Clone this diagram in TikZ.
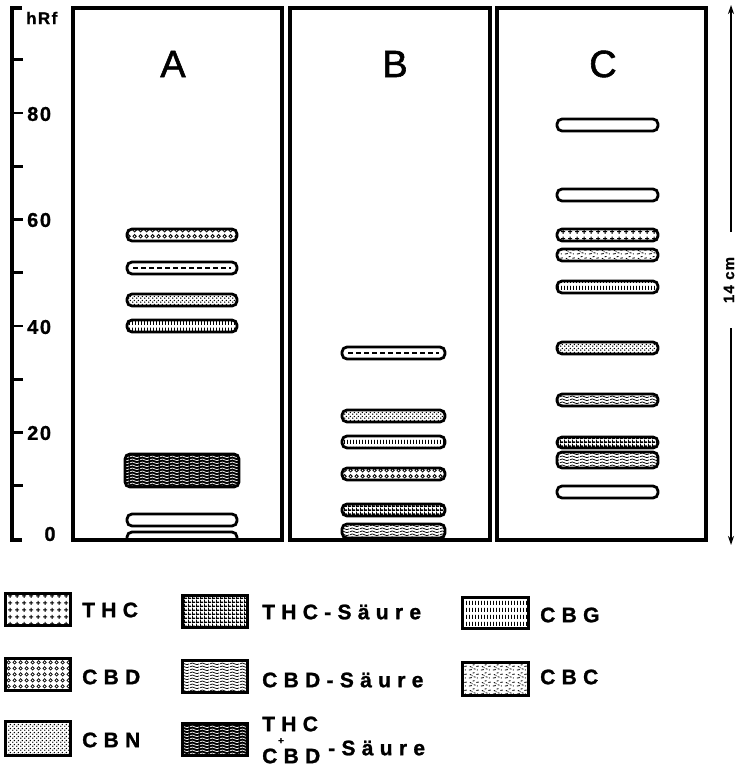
\documentclass[tikz,border=0pt]{standalone}
\usepackage{fontspec}
\setmainfont{Liberation Sans}
\newfontfamily\labfont[LetterSpace=30,FakeBold=1.2]{Liberation Sans Bold}
\newfontfamily\numfont[LetterSpace=8,FakeBold=1]{Liberation Sans Bold}
\newfontfamily\panfont[FakeBold=1.5]{Liberation Sans}
\usetikzlibrary{patterns.meta,arrows.meta}

\tikzdeclarepattern{name=thcp, tile size={(7pt,7pt)}, bottom left={(0pt,0pt)}, top right={(7pt,7pt)},
  code={\tikzset{x=1pt,y=1pt}\draw[line width=1.1pt] (1.3,3.5)--(5.7,3.5) (3.5,1.3)--(3.5,5.7);}}
\tikzdeclarepattern{name=cbdp, tile size={(6pt,6pt)}, bottom left={(0pt,0pt)}, top right={(6pt,6pt)},
  code={\tikzset{x=1pt,y=1pt}\draw[line width=.9pt] (3,3) circle[radius=1.9];}}
\tikzdeclarepattern{name=cbnp, tile size={(4pt,4pt)}, bottom left={(0pt,0pt)}, top right={(4pt,4pt)},
  code={\tikzset{x=1pt,y=1pt}\fill (1,1) circle[radius=.9]; \fill (3,3) circle[radius=.9];}}
\tikzdeclarepattern{name=thcsp, tile size={(4pt,4pt)}, bottom left={(0pt,0pt)}, top right={(4pt,4pt)},
  code={\tikzset{x=1pt,y=1pt}\fill (0,0) rectangle (4,1.8); \fill (0,0) rectangle (1.1,4);}}
\tikzdeclarepattern{name=cbgp, tile size={(3.4pt,7pt)}, bottom left={(0pt,0pt)}, top right={(3.4pt,7pt)},
  code={\tikzset{x=1pt,y=1pt}\draw[line width=1pt] (1.7,1.2)--(1.7,5.6);}}
\tikzdeclarepattern{name=wavep, tile size={(10pt,3pt)}, bottom left={(0pt,0pt)}, top right={(10pt,3pt)},
  code={\tikzset{x=1pt,y=1pt}\draw[line width=.9pt] (0,1.5) sin (2.5,2.6) cos (5,1.5) sin (7.5,.4) cos (10,1.5);}}
\tikzdeclarepattern{name=cbcp, tile size={(12pt,8pt)}, bottom left={(0pt,0pt)}, top right={(12pt,8pt)},
  code={\tikzset{x=1pt,y=1pt}\draw[line width=.9pt] (1,1)--(4,1.6) (6,2.5)--(8,2) (9,5)--(11.5,5.5) (2,5)--(3.5,4.5) (5,6.5)--(7,7) (4,3.5)--(5,3.5) (9.5,1)--(10.5,1.3);}}

\tikzset{
  band/.style={line width=2.8pt, rounded corners=5pt, fill=white},
  panel/.style={line width=3.8pt},
  swatch/.style={line width=3pt, fill=white},
  axisline/.style={line width=3.2pt},
  tick/.style={line width=2.8pt},
  axlab/.style={font=\numfont\fontsize{20}{20}\selectfont, inner sep=0pt},
  leg/.style={font=\labfont\fontsize{21}{21}\selectfont, inner sep=0pt, anchor=west},
  panlab/.style={font=\panfont\fontsize{38}{38}\selectfont, inner sep=0pt},
  arr/.style={line width=1.8pt, -{Stealth[length=9pt,width=6pt]}},
}
\newcommand\bnd[5]{\draw[band,#5] (#1,#2) rectangle (#3,#4);}
\newcommand\bnddash[4]{\draw[band] (#1,#2) rectangle (#3,#4);
  \draw[line width=1.5pt, dash pattern=on 5pt off 3pt] ({#1+6},{(#2+#4)/2}) -- ({#3-6},{(#2+#4)/2});}
\newcommand\bndmix[4]{\fill[rounded corners=5pt] (#1,#2) rectangle (#3,#4);
  \fill[rounded corners=5pt, pattern=wavep, pattern color=white] (#1,#2) rectangle (#3,#4);
  \draw[line width=2.8pt, rounded corners=5pt] (#1,#2) rectangle (#3,#4);}

\begin{document}
\begin{tikzpicture}[x=1pt,y=-1pt]
\useasboundingbox (0,0) rectangle (738,767);
\fill[white] (0,0) rectangle (738,767);

% axis
\draw[axisline] (22,8) -- (12,8) -- (12,540) -- (22,540);
\foreach \k in {1,...,9} {\draw[tick] (12,{539-53.25*\k}) -- (23,{539-53.25*\k});}
\node[axlab, anchor=west] (l80) at (27,114) {80};
\node[axlab, anchor=west] (l60) at (27,220) {60};
\node[axlab, anchor=west] (l40) at (27,327) {40};
\node[axlab, anchor=west] (l20) at (27,433) {20};
\node[axlab] (l0) at (50,534) {0};
\node[font=\numfont\fontsize{17}{17}\selectfont, inner sep=0pt, anchor=west] (hrf) at (26,18) {hRf};

% panel A
\begin{scope}
\clip (73,8) rectangle (282,540);
\bnd{127}{229}{237}{241}{pattern=cbdp}
\bnddash{127}{262}{237}{274}
\bnd{127}{294}{237}{306}{pattern=cbnp}
\bnd{127}{320}{237}{332}{pattern=cbgp}
\bndmix{125}{454}{239}{487}
\bnd{127}{514}{237}{526}{}
\bnd{127}{532}{237}{544}{}
\end{scope}
\draw[panel] (73,8) rectangle (282,540);
\node[panlab] (A) at (173,64) {A};

% panel B
\begin{scope}
\clip (290,8) rectangle (490,540);
\bnddash{342}{347}{445}{359}
\bnd{342}{410}{445}{422}{pattern=cbnp}
\bnd{342}{436}{445}{448}{pattern=cbgp}
\bnd{342}{468}{445}{480}{pattern=cbdp}
\bnd{342}{504}{445}{516}{pattern=thcsp}
\bnd{342}{524}{445}{538}{pattern=wavep}
\end{scope}
\draw[panel] (290,8) rectangle (490,540);
\node[panlab] (B) at (395,64) {B};

% panel C
\begin{scope}
\clip (497,8) rectangle (706,540);
\bnd{557}{119}{658}{131}{}
\bnd{557}{189}{658}{201}{}
\bnd{557}{229}{658}{241}{pattern=thcp}
\bnd{557}{249}{658}{261}{pattern=cbcp}
\bnd{557}{281}{658}{293}{pattern=cbgp}
\bnd{557}{342}{658}{354}{pattern=cbnp}
\bnd{557}{394}{658}{406}{pattern=wavep}
\bnd{557}{437}{658}{448}{pattern=thcsp}
\bnd{557}{452}{658}{468}{pattern=wavep}
\bnd{557}{486}{658}{498}{}
\end{scope}
\draw[panel] (497,8) rectangle (706,540);
\node[panlab] (C) at (603,64) {C};

% 14 cm
\node[font=\numfont\fontsize{15}{15}\selectfont, rotate=90, inner sep=0pt] (cm) at (729,280) {14 cm};
\coordinate (top) at (731,5);
\coordinate (bot) at (731,545);
\draw[arr] (731,232) -- (top);
\draw[arr] (731,328) -- (bot);

% legend
\draw[swatch, pattern=thcp] (5,593) rectangle (70,625);
\node[leg] (t1) at (82,610) {THC};
\draw[swatch, pattern=cbdp] (5,658) rectangle (70,690);
\node[leg] (t2) at (82,677) {CBD};
\draw[swatch, pattern=cbnp] (5,721) rectangle (70,755);
\node[leg] (t3) at (82,740) {CBN};

\draw[swatch, pattern=thcsp] (182,595) rectangle (247,627);
\node[leg] (t4) at (262,612) {THC-Säure};
\draw[swatch, pattern=wavep] (182,660) rectangle (247,692);
\node[leg] (t5) at (262,680) {CBD-Säure};
\fill (182,723) rectangle (247,755);
\fill[pattern=wavep, pattern color=white] (182,723) rectangle (247,755);
\draw[line width=3pt] (182,723) rectangle (247,755);
\node[leg] (t6a) at (262,724) {THC};
\node[leg] (t6b) at (262,756) {CBD};
\node[font=\numfont\fontsize{10}{10}\selectfont, inner sep=0pt] (plus) at (281,741) {+};
\node[leg] (t6c) at (328,748) {-Säure};

\draw[swatch, pattern=cbgp] (462,597) rectangle (528,628);
\node[leg] (t7) at (540,615) {CBG};
\draw[swatch, pattern=cbcp] (462,662) rectangle (528,695);
\node[leg] (t8) at (540,677) {CBC};
\end{tikzpicture}
\end{document}
